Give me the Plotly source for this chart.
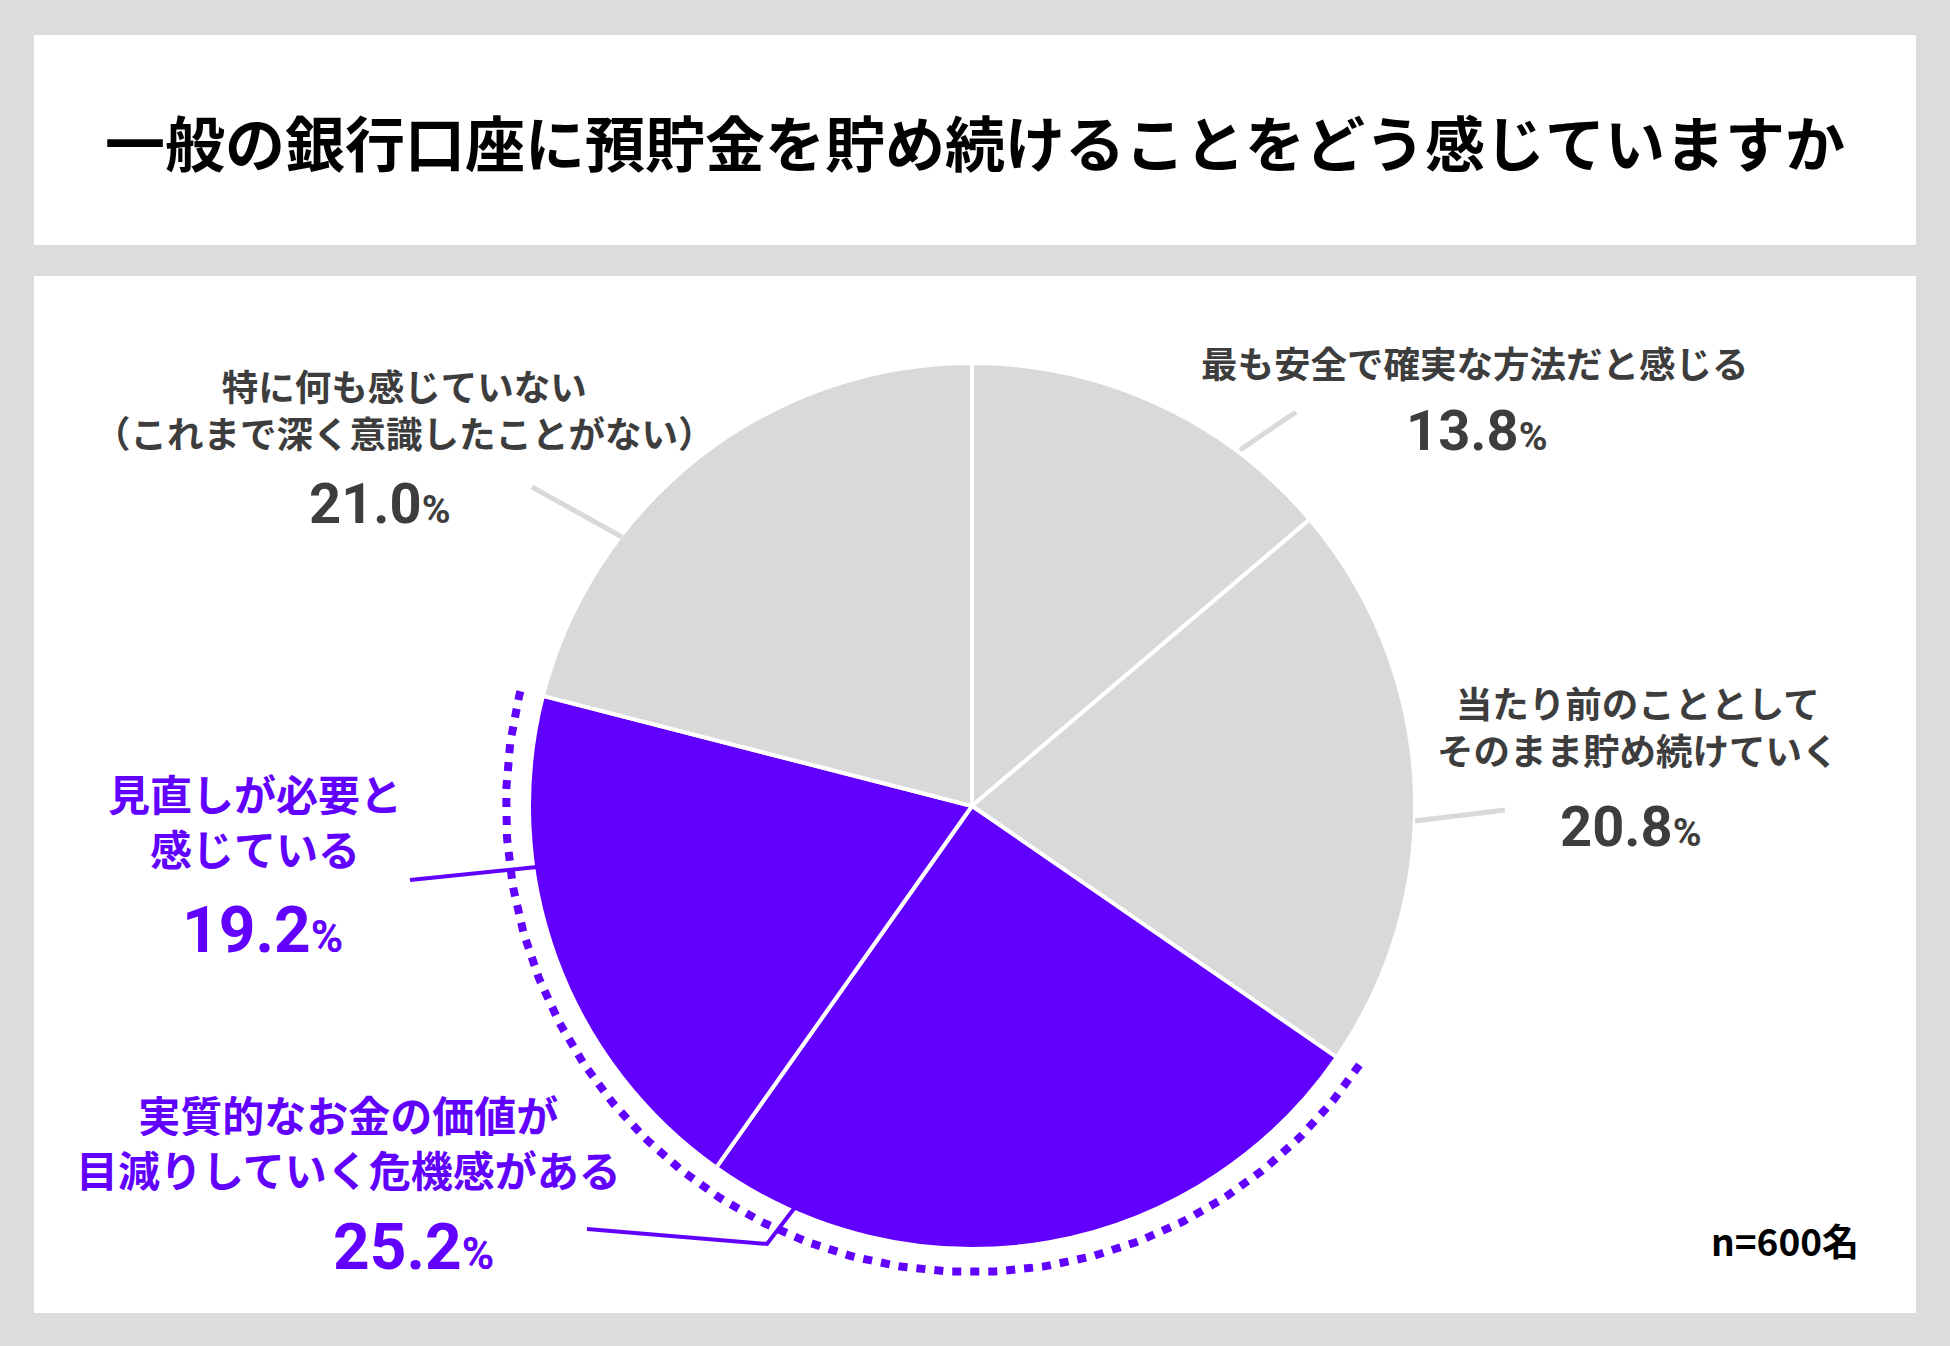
import numpy as np
import plotly.graph_objects as go

# data, clockwise from 12 o'clock
categories = [
    "最も安全で確実な方法だと感じる",
    "当たり前のこととしてそのまま貯め続けていく",
    "実質的なお金の価値が目減りしていく危機感がある",
    "見直しが必要と感じている",
    "特に何も感じていない（これまで深く意識したことがない）",
]
label_lines = [
    ["最も安全で確実な方法だと感じる"],
    ["当たり前のこととして", "そのまま貯め続けていく"],
    ["実質的なお金の価値が", "目減りしていく危機感がある"],
    ["見直しが必要と", "感じている"],
    ["特に何も感じていない", "（これまで深く意識したことがない）"],
]
values = [13.8, 20.8, 25.2, 19.2, 21.0]
highlight = [False, False, True, True, False]
title = "一般の銀行口座に預貯金を貯め続けることをどう感じていますか"
note = "n=600名"

W, H = 1950, 1346
PURPLE = "#6200ff"
GRAY = "#d9d9d9"
TEXT = "#3d3d3d"
JP = "Noto Sans CJK JP"
NUM = "Roboto"

cx, cy, R = 972, 806, 443

colors = [PURPLE if h else GRAY for h in highlight]

fig = go.Figure()
fig.add_trace(go.Pie(
    labels=categories, values=values, sort=False, direction="clockwise",
    rotation=0, marker=dict(colors=colors, line=dict(color="white", width=4)),
    textinfo="none", hoverinfo="skip", showlegend=False,
    domain=dict(x=[(cx - R) / W, (cx + R) / W], y=[(H - cy - R) / H, (H - cy + R) / H]),
))

# dotted arc around the highlighted slices
cum = np.concatenate([[0], np.cumsum(values)]) / sum(values) * 360
idx = [i for i, h in enumerate(highlight) if h]
a0, a1 = np.radians(cum[idx[0]] - 0.8), np.radians(cum[idx[-1] + 1] + 0.8)
th = np.linspace(a0, a1, 300)
Ra = 466
fig.add_trace(go.Scatter(
    x=cx + Ra * np.sin(th), y=cy - Ra * np.cos(th), mode="lines",
    line=dict(color=PURPLE, width=8, dash="9px,9px"), hoverinfo="skip", showlegend=False,
))

# label positions: (x, label centre y, number x, number y)
pos = [
    (1475, 362, 1476, 431),
    (1638, 726, 1630, 827),
    (348, 1141, 413, 1247),
    (255, 820, 262, 930),
    (404, 409, 379, 504),
]

annotations = [dict(
    x=975, y=140, xref="x", yref="y", text=title, showarrow=False,
    font=dict(family=JP, size=60, color="black", weight="bold"),
)]
for i, (lx, ly, nx, ny) in enumerate(pos):
    col = PURPLE if highlight[i] else TEXT
    fs = 42 if highlight[i] else 36.5
    nfs = 64 if highlight[i] else 56
    annotations.append(dict(
        x=lx, y=ly, xref="x", yref="y", text="<br>".join(label_lines[i]),
        showarrow=False, align="center",
        font=dict(family=JP, size=fs, color=col, weight="bold"),
    ))
    annotations.append(dict(
        x=nx, y=ny, xref="x", yref="y", showarrow=False,
        text=f"{values[i]:.1f}<span style='font-size:{int(nfs * 0.7)}px'>%</span>",
        font=dict(family=NUM, size=nfs, color=col, weight="bold"),
    ))
annotations.append(dict(
    x=1785, y=1240, xref="x", yref="y", text=note, showarrow=False,
    font=dict(family=JP, size=37, color="black", weight="bold"),
))

shapes = [
    dict(type="rect", xref="x", yref="y", x0=34, x1=1916, y0=35, y1=245,
         fillcolor="white", line=dict(width=0), layer="below"),
    dict(type="rect", xref="x", yref="y", x0=34, x1=1916, y0=276, y1=1313,
         fillcolor="white", line=dict(width=0), layer="below"),
    # leader lines
    dict(type="line", xref="x", yref="y", x0=1240, y0=450, x1=1296, y1=412,
         line=dict(color=GRAY, width=5)),
    dict(type="line", xref="x", yref="y", x0=1415, y0=821, x1=1505, y1=810,
         line=dict(color=GRAY, width=5)),
    dict(type="line", xref="x", yref="y", x0=532, y0=487, x1=622, y1=537,
         line=dict(color=GRAY, width=5)),
    dict(type="line", xref="x", yref="y", x0=410, y0=880, x1=537, y1=867,
         line=dict(color=PURPLE, width=4)),
    dict(type="path", xref="x", yref="y", path="M 587 1229 L 767 1244 L 796 1206",
         line=dict(color=PURPLE, width=4)),
]

fig.update_layout(
    width=W, height=H, autosize=False,
    margin=dict(l=0, r=0, t=0, b=0),
    paper_bgcolor="#dcdcdc", plot_bgcolor="rgba(0,0,0,0)",
    xaxis=dict(range=[0, W], visible=False, fixedrange=True),
    yaxis=dict(range=[H, 0], visible=False, fixedrange=True),
    annotations=annotations, shapes=shapes,
)

fig.write_html(
    "out.html",
    config={"displayModeBar": False},
    post_script="document.body.style.margin='0';document.body.style.background='#dcdcdc';",
)
